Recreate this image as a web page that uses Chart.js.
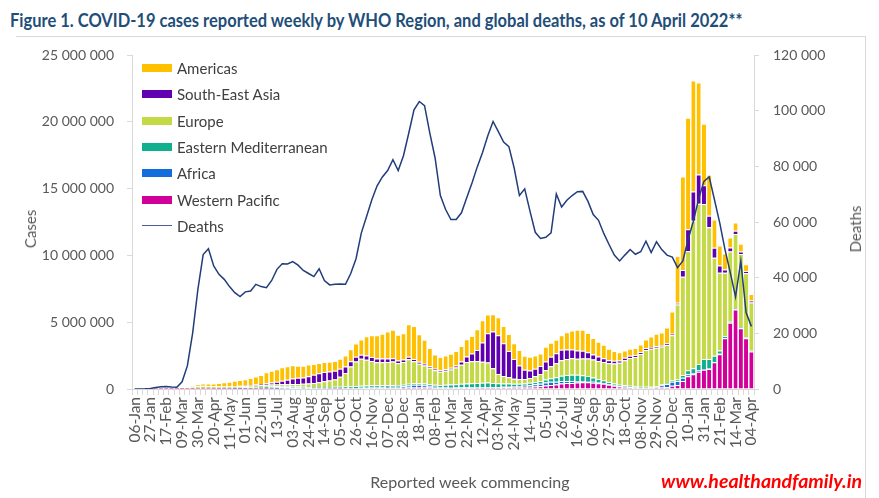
<!DOCTYPE html>
<html>
<head>
<meta charset="utf-8">
<script src="https://cdn.jsdelivr.net/npm/chart.js@4.4.1/dist/chart.umd.min.js"></script>
<style>
body { margin: 0; background: #fff; }
#wrap { position: relative; width: 879px; height: 498px; overflow: hidden; font-family: Lato, "Open Sans", sans-serif; color: #595959; }
#frame { position: absolute; left: 16px; top: 36px; width: 849px; height: 520px; border: 1px solid #d9d9d9; border-left: none; }
#title { position: absolute; left: 10px; top: 9px; font-weight: bold; font-size: 18px; color: #1f4e79; white-space: nowrap; transform-origin: 0 0; }
#myChart { position: absolute; left: 0; top: 0; }
.vt { position: absolute; font-size: 15px; white-space: nowrap; transform: translate(-50%, -50%) rotate(-90deg); }
#xTitle { position: absolute; left: 470px; top: 481px; font-size: 16px; white-space: nowrap; transform: translate(-50%, -50%); }
#mark { position: absolute; right: 17px; top: 469px; font-size: 19.5px; font-weight: bold; font-style: italic; color: #ff0000; }
.lg { position: absolute; left: 0; font-size: 15px; color: #404040; white-space: nowrap; }
.sw { position: absolute; left: 142px; width: 30px; }
</style>
</head>
<body>
<div id="wrap">
  <div id="frame"></div>
  <div id="title">Figure 1. COVID-19 cases reported weekly by WHO Region, and global deaths, as of 10 April 2022**</div>
  <canvas id="myChart" width="879" height="498"></canvas>
  <div id="legend"></div>
  <div class="vt" style="left:30px; top:229px;">Cases</div>
  <div class="vt" style="left:855px; top:229px;">Deaths</div>
  <div id="xTitle">Reported week commencing</div>
  <div id="mark">www.healthandfamily.in</div>
</div>
<script>
// week commencing (2020-01-06 .. 2022-04-04)
var weeks = [
 '06-Jan','13-Jan','20-Jan','27-Jan','03-Feb','10-Feb','17-Feb','24-Feb','02-Mar','09-Mar',
 '16-Mar','23-Mar','30-Mar','06-Apr','13-Apr','20-Apr','27-Apr','04-May','11-May','18-May',
 '25-May','01-Jun','08-Jun','15-Jun','22-Jun','29-Jun','06-Jul','13-Jul','20-Jul','27-Jul',
 '03-Aug','10-Aug','17-Aug','24-Aug','31-Aug','07-Sep','14-Sep','21-Sep','28-Sep','05-Oct',
 '12-Oct','19-Oct','26-Oct','02-Nov','09-Nov','16-Nov','23-Nov','30-Nov','07-Dec','14-Dec',
 '21-Dec','28-Dec','04-Jan','11-Jan','18-Jan','25-Jan','01-Feb','08-Feb','15-Feb','22-Feb',
 '01-Mar','08-Mar','15-Mar','22-Mar','29-Mar','05-Apr','12-Apr','19-Apr','26-Apr','03-May',
 '10-May','17-May','24-May','31-May','07-Jun','14-Jun','21-Jun','28-Jun','05-Jul','12-Jul',
 '19-Jul','26-Jul','02-Aug','09-Aug','16-Aug','23-Aug','30-Aug','06-Sep','13-Sep','20-Sep',
 '27-Sep','04-Oct','11-Oct','18-Oct','25-Oct','01-Nov','08-Nov','15-Nov','22-Nov','29-Nov',
 '06-Dec','13-Dec','20-Dec','27-Dec','03-Jan','10-Jan','17-Jan','24-Jan','31-Jan','07-Feb',
 '14-Feb','21-Feb','28-Feb','07-Mar','14-Mar','21-Mar','28-Mar','04-Apr'
];

// weekly cases by region, in thousands
var westernPacific = [
 0,0,0,2,4,4,3,2,2,3,
 5,8,10,12,10,8,8,8,8,8,
 8,8,9,10,12,15,20,25,30,35,
 50,50,45,40,35,30,28,25,22,20,
 30,30,35,40,50,60,60,65,75,85,
 85,100,120,140,150,140,110,85,70,75,
 80,85,90,90,90,95,100,110,110,110,
 120,130,140,140,150,160,180,200,260,300,
 330,420,450,450,480,500,510,470,430,390,
 310,235,180,155,130,90,80,85,90,95,
 140,130,250,300,600,950,1100,1300,1450,1500,
 2000,2600,3800,4950,5950,4550,3800,2800
];
var africa = [
 0,0,0,0,0,0,0,0,0,0,
 0,2,3,5,5,6,7,10,12,15,
 20,25,30,40,50,60,70,85,95,90,
 70,60,50,45,40,35,32,30,28,30,
 35,35,40,45,45,50,55,60,70,80,
 90,110,150,170,160,130,100,75,60,55,
 50,45,45,45,45,45,40,40,40,40,
 40,45,50,65,90,130,170,200,230,240,
 220,180,150,130,110,100,90,70,60,50,
 40,35,30,25,20,20,15,15,15,30,
 130,250,300,300,250,150,100,80,50,40,
 30,30,20,20,20,20,10,10
];
var easternMed = [
 0,0,0,0,0,0,0,0,2,5,
 5,10,20,25,25,25,30,35,40,50,
 60,70,80,90,95,100,100,95,90,80,
 80,75,70,70,75,85,95,100,110,115,
 130,140,150,160,160,170,160,150,140,130,
 120,110,130,130,130,140,150,160,170,190,
 200,220,250,280,290,300,320,330,300,280,
 260,230,200,180,170,170,180,200,220,270,
 330,400,450,480,470,430,380,320,260,210,
 170,140,110,100,90,80,75,70,65,65,
 60,60,80,120,200,300,350,500,750,700,
 450,250,150,120,100,80,70,60
];
var europe = [
 0,0,0,0,0,0,0,0,5,30,
 40,130,170,190,180,170,150,140,130,120,
 110,110,120,125,130,135,140,140,140,150,
 180,190,220,250,300,350,420,480,560,750,
 1000,1470,1840,2010,1940,1820,1720,1720,1730,1760,
 1640,1700,1820,1640,1450,1350,1230,1080,1000,1050,
 1130,1250,1430,1600,1650,1650,1580,1500,1100,700,
 550,480,380,370,330,360,420,520,700,900,
 1050,1150,1200,1250,1200,1250,1300,1350,1350,1380,
 1400,1500,1640,1880,2080,2200,2450,2750,2850,2900,
 2850,2850,3400,5600,7350,8920,11050,11980,11600,9860,
 7350,5820,4730,5200,5530,5450,4780,3600
];
var southEastAsia = [
 0,0,0,0,0,0,0,0,0,0,
 0,2,5,8,10,10,15,20,25,35,
 45,50,60,75,90,120,150,200,270,330,
 400,460,470,550,620,680,700,670,640,600,
 480,400,350,310,320,300,290,280,260,250,
 200,190,190,170,150,130,120,110,110,120,
 130,150,240,420,580,830,1440,2200,2750,2900,
 2450,1950,1480,1000,700,560,560,600,650,700,
 750,780,700,650,620,580,470,380,330,280,
 230,200,180,170,160,150,150,140,130,120,
 100,110,100,130,500,1640,2190,2190,1400,870,
 750,550,250,300,250,200,170,150
];
var americas = [
 0,0,0,0,0,0,0,0,0,2,
 15,50,140,180,190,200,230,300,330,390,
 430,460,530,590,670,830,880,930,1000,1020,
 1000,900,880,880,800,760,740,730,740,750,
 830,900,1000,1140,1440,1620,1730,1860,2020,2130,
 1920,1970,2440,2460,2060,1790,1350,1080,980,1020,
 1050,1090,1160,1290,1320,1550,1670,1400,1300,1340,
 1300,1290,1180,1170,1050,1040,990,930,1100,1050,
 1000,1100,1300,1420,1550,1570,1450,1220,1100,1000,
 860,730,620,560,530,520,560,650,780,920,
 950,1200,1670,3500,7000,8340,8310,6890,4600,3060,
 2110,1490,1200,750,620,570,500,500
];
// global deaths per week, in thousands
var deaths = [
 0,0,0.05,0.2,0.5,0.8,0.9,0.7,0.6,2.6,
 8.3,20,35.8,48.3,50.4,44.2,41.2,39.4,36.8,34.6,
 33.2,34.9,35.2,37.6,36.8,36.4,39,43,45,44.9,
 45.8,44.5,42.6,41.5,40.4,43.2,39,37.4,37.6,37.7,
 37.6,41.5,46.8,56,62,68,73,76.2,78.5,82.4,
 78.5,83.8,91.9,100.3,103.3,101.8,91.9,83,69.5,64.5,
 60.9,60.9,63.3,68.7,74,79.8,85,91,96.1,92.5,
 88.7,87.1,79.4,69.5,71.9,63.9,56.3,54.1,54.5,56.1,
 70.1,65.4,67.8,69.5,70.9,71,67.4,62.7,60.6,55.9,
 51.9,48.1,46,48.1,50.1,48.4,49.3,53.1,49,52.9,
 50.1,48.1,47.4,43.6,46,53.7,60.3,68.3,74.6,76.2,
 68,59.7,50.1,41.8,33.1,46,27.5,22.5
];

var casesTicks = [0, 5000000, 10000000, 15000000, 20000000, 25000000];
var deathTicks = [0, 20000, 40000, 60000, 80000, 100000, 120000];
var legendOrder = ['Americas', 'South-East Asia', 'Europe', 'Eastern Mediterranean', 'Africa', 'Western Pacific', 'Deaths'];

// 1234567 -> "1 234 567"
function spaced(v){
	return String(Math.round(v)).replace(/\B(?=(\d{3})+(?!\d))/g, ' ');
}

function barSet(label, values, color){
	return {
		type: 'bar',
		label: label,
		data: values.map(function(v){ return v * 1000; }),
		backgroundColor: color,
		borderColor: '#ffffff',
		borderWidth: {top: 1, right: 0, bottom: 0, left: 0},
		barPercentage: 0.78,
		categoryPercentage: 1,
		yAxisID: 'y',
		order: 1
	};
}

Chart.defaults.font.family = 'Lato, "Open Sans", sans-serif';
Chart.defaults.color = '#595959';

var ctx = document.getElementById('myChart').getContext('2d');
var chart = new Chart(ctx, {
	type: 'bar',
	data: {
		labels: weeks,
		datasets: [
			barSet('Western Pacific', westernPacific, '#d2009b'),
			barSet('Africa', africa, '#146ddc'),
			barSet('Eastern Mediterranean', easternMed, '#10b08f'),
			barSet('Europe', europe, '#c3d946'),
			barSet('South-East Asia', southEastAsia, '#6100b0'),
			barSet('Americas', americas, '#ffc000'),
			{
				type: 'line',
				label: 'Deaths',
				data: deaths.map(function(v){ return v * 1000; }),
				borderColor: '#213d7a',
				borderWidth: 1.5,
				pointRadius: 0,
				tension: 0,
				yAxisID: 'y1',
				order: 0
			}
		]
	},
	options: {
		responsive: false,
		animation: false,
		layout: {padding: {top: 55, left: 0, right: 0, bottom: 0}},
		plugins: {legend: {display: false}, tooltip: {enabled: false}},
		scales: {
			x: {
				stacked: true,
				offset: true,
				grid: {offset: true, drawOnChartArea: false, drawTicks: true, tickLength: 6, color: '#d9d9d9'},
				border: {color: '#d9d9d9'},
				ticks: {
					autoSkip: false, maxRotation: 90, minRotation: 90, padding: 2,
					font: {size: 15.5},
					callback: function(v, i){ return i % 3 == 0 ? weeks[i] : ''; }
				},
				afterFit: function(s){ s.height = 109; }
			},
			y: {
				stacked: true, min: 0, max: 25000000,
				grid: {drawOnChartArea: false, drawTicks: true, tickLength: 5, color: '#d9d9d9'},
				border: {color: '#d9d9d9'},
				afterBuildTicks: function(s){ s.ticks = casesTicks.map(function(v){ return {value: v}; }); },
				ticks: {padding: 13, font: {size: 14}, callback: function(v){ return spaced(v); }},
				afterFit: function(s){ s.width = 132; }
			},
			y1: {
				position: 'right', min: 0, max: 120000,
				grid: {drawOnChartArea: false, drawTicks: true, tickLength: 5, color: '#d9d9d9'},
				border: {color: '#d9d9d9'},
				afterBuildTicks: function(s){ s.ticks = deathTicks.map(function(v){ return {value: v}; }); },
				ticks: {padding: 14, font: {size: 14}, callback: function(v){ return spaced(v); }},
				afterFit: function(s){ s.width = 125; }
			}
		}
	}
});

//legend (top left inside the plot)
function drawLegend(){
	var box = document.getElementById('legend');
	legendOrder.forEach(function(name, k){
		var ds = chart.data.datasets.filter(function(d){ return d.label == name; })[0];
		var cy = 68 + k * 26.3;
		var sw = document.createElement('div');
		sw.className = 'sw';
		if (ds.type == 'line') {
			sw.style.top = (cy - 1) + 'px';
			sw.style.height = '1.5px';
			sw.style.background = '#4a5f97';
		} else {
			sw.style.top = (cy - 4) + 'px';
			sw.style.height = '8px';
			sw.style.background = ds.backgroundColor;
		}
		box.appendChild(sw);
		var tx = document.createElement('div');
		tx.className = 'lg';
		tx.style.left = '177px';
		tx.style.top = (cy - 9) + 'px';
		tx.style.lineHeight = '18px';
		tx.textContent = name;
		box.appendChild(tx);
	});
}
drawLegend();

//title squeezed to the reference width
var title = document.getElementById('title');
title.style.transform = 'scaleX(' + (732 / title.offsetWidth) + ')';
</script>
</body>
</html>
